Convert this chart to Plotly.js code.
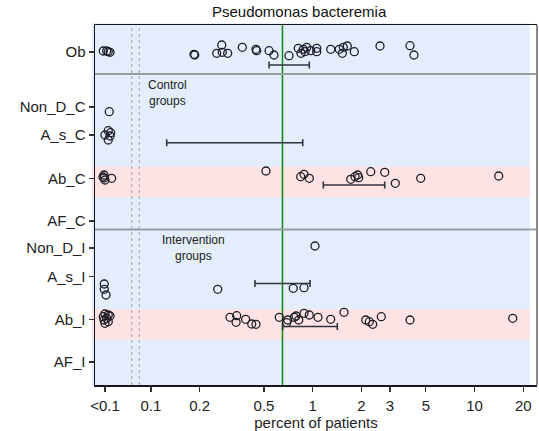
<!DOCTYPE html>
<html>
<head>
<meta charset="utf-8">
<script src="https://cdn.plot.ly/plotly-3.0.1.min.js"></script>
<style>
  html, body { margin: 0; padding: 0; background: #fff; }
  #chart { width: 539px; height: 431px; }
</style>
</head>
<body>
<div id="chart"></div>
<script>
// Row labels (top to bottom) and their vertical slots on the numeric y axis
const rows = ['Ob', 'Non_D_C', 'A_s_C', 'Ab_C', 'AF_C', 'Non_D_I', 'A_s_I', 'Ab_I', 'AF_I'];
const rowPos = [52, 107, 135, 178.5, 221, 248, 276.5, 319.5, 362];

// Percent of patients per study, one array per row; values shown at "<0.1" are below 0.1
const ob_x = [0.0508, 0.0533, 0.0559, 0.0545, 0.1846, 0.1865, 0.255, 0.274, 0.276, 0.298,
  0.367, 0.446, 0.450, 0.537, 0.576, 0.713, 0.814, 0.846, 0.874, 0.896, 0.918, 0.971,
  1.058, 1.058, 1.291, 1.459, 1.523, 1.545, 1.635, 1.806, 2.603, 3.99, 4.22];
const ob_jit = [-1, -1, 0.3, -0.3, 2.3, 3, 1.3, -7, 0.3, 1.3,
  -4.7, -2.7, -1.3, -1.3, 3, 3.7, -3.7, 1.3, -2.7, -0.3, -4.7, -1.3,
  -3.7, -0.3, -2.7, -2.7, 1.3, -4.7, -6, -0.3, -6, -6.3, 3];

const nonDC_x = [0.0553];
const nonDC_jit = [4.7];

const asC_x = [0.0520, 0.0545, 0.0559, 0.0545, 0.0564];
const asC_jit = [0, -4.3, 1, 5, -2.3];

const abC_x = [0.0513, 0.0513, 0.0520, 0.0506, 0.0572, 0.514, 0.842, 0.883, 0.952,
  1.716, 1.824, 1.895, 1.922, 2.281, 2.784, 3.236, 4.645, 14.09];
const abC_jit = [-3.5, -0.5, 1.5, -1.5, -0.2, -7.5, -1.8, -4.2, -0.2,
  0.8, -1.8, -3.5, -0.8, -6.8, -6.2, 4.8, -0.2, -2.5];

const nonDI_x = [1.032];
const nonDI_jit = [-2];

const asI_x = [0.0515, 0.0515, 0.0528, 0.2587, 0.758, 0.883];
const asI_jit = [7.5, 12.8, 18.5, 12.8, 11.8, 11.2];

const abI_x = [0.0520, 0.0545, 0.0508, 0.0533, 0.0559, 0.0520, 0.0545, 0.0513,
  0.308, 0.339, 0.336, 0.385, 0.4196, 0.446, 0.621, 0.700, 0.690, 0.769, 0.788,
  0.819, 0.883, 0.952, 1.077, 1.291, 1.560, 2.125, 2.236, 2.346, 2.652, 3.99, 17.2];
const abI_jit = [-5.5, -4.5, -2.8, -1.2, -3.5, 3.8, 2.2, 0.5,
  -2.2, -3.8, 2.8, -0.2, 4.5, 4.8, -2.2, 0.5, 3.2, -2.2, -3.5,
  0.5, -6.2, -4.5, -2.2, -0.2, -7.2, 0.5, 2.2, 4.8, -2.8, 0.5, -1.2];

// Interval (low, high) drawn under a row
const ciRows = ['Ob', 'A_s_C', 'Ab_C', 'A_s_I', 'Ab_I'];
const ciLow = [0.537, 0.1252, 1.162, 0.4396, 0.652];
const ciHigh = [0.952, 0.867, 2.784, 0.962, 1.418];
const ciOffset = [13, 7.7, 6.5, 7, 7];

// Overall reference value and the "<0.1" break markers
const refValue = 0.65;
const breakLines = [0.0761, 0.0848];

// X tick labels
const xTickVals = [0.052, 0.1, 0.2, 0.5, 1, 2, 3, 5, 10, 20];
const xTickText = ['<0.1', '0.1', '0.2', '0.5', '1', '2', '3', '5', '10', '20'];

const FONT = 'Liberation Sans, Arial, sans-serif';
const posOf = name => rowPos[rows.indexOf(name)];

const pointRows = [
  ['Ob', ob_x, ob_jit],
  ['Non_D_C', nonDC_x, nonDC_jit],
  ['A_s_C', asC_x, asC_jit],
  ['Ab_C', abC_x, abC_jit],
  ['Non_D_I', nonDI_x, nonDI_jit],
  ['A_s_I', asI_x, asI_jit],
  ['Ab_I', abI_x, abI_jit]
];

const traces = pointRows.map(([name, xs, jit]) => ({
  type: 'scatter',
  mode: 'markers',
  name: name,
  x: xs,
  y: jit.map(j => posOf(name) + j),
  marker: { symbol: 'circle-open', size: 8, color: '#1e1e28', line: { width: 1.3 } },
  hoverinfo: 'x+name',
  showlegend: false
}));

// Intervals as error bars anchored at the low end
traces.push({
  type: 'scatter',
  mode: 'markers',
  x: ciLow,
  y: ciRows.map((r, i) => posOf(r) + ciOffset[i]),
  marker: { size: 1, color: 'rgba(0,0,0,0)' },
  error_x: {
    type: 'data', symmetric: false,
    array: ciHigh.map((h, i) => h - ciLow[i]),
    arrayminus: ciLow.map(() => 0),
    color: '#333340', thickness: 1.6, width: 3.5
  },
  hoverinfo: 'skip',
  showlegend: false
});

const shapes = [
  // panel background
  { type: 'rect', xref: 'paper', yref: 'paper', x0: -0.007, x1: 0.984, y0: -0.005, y1: 1.005,
    fillcolor: '#e3edfb', line: { width: 0 }, layer: 'below' },
  // highlighted rows
  { type: 'rect', xref: 'paper', yref: 'y', x0: -0.007, x1: 0.984, y0: 166.7, y1: 197.3,
    fillcolor: '#fde3e3', line: { width: 0 }, layer: 'below' },
  { type: 'rect', xref: 'paper', yref: 'y', x0: -0.007, x1: 0.984, y0: 309, y1: 340,
    fillcolor: '#fde3e3', line: { width: 0 }, layer: 'below' }
];
breakLines.forEach(v => shapes.push({
  type: 'line', xref: 'x', yref: 'paper', x0: v, x1: v, y0: 0, y1: 1,
  line: { color: '#a8a8b0', width: 1, dash: 'dot' }, layer: 'below'
}));
shapes.push({
  type: 'line', xref: 'x', yref: 'paper', x0: refValue, x1: refValue, y0: 0, y1: 1,
  line: { color: '#0a8a0a', width: 1.5 }, layer: 'below'
});
// group separators
[74, 229.5].forEach(y => shapes.push({
  type: 'line', xref: 'paper', yref: 'y', x0: 0, x1: 1, y0: y, y1: y,
  line: { color: '#9a9ca2', width: 2.2 }, layer: 'below'
}));
// right edge of the frame
shapes.push({
  type: 'line', xref: 'paper', yref: 'paper', x0: 1, x1: 1, y0: 0, y1: 1,
  line: { color: '#8a8a8a', width: 2 }
});

const groupText = (txt, x, y) => ({
  text: txt, xref: 'paper', yref: 'y', x: x, y: y, showarrow: false,
  xanchor: 'center', yanchor: 'middle', font: { family: FONT, size: 12, color: '#222' }
});

const layout = {
  width: 539, height: 431,
  margin: { l: 95, r: 2, t: 25, b: 46 },
  paper_bgcolor: '#ffffff',
  plot_bgcolor: '#ffffff',
  title: {
    text: 'Pseudomonas bacteremia',
    font: { family: FONT, size: 15, color: '#111' },
    x: 0.555, xref: 'container', xanchor: 'center',
    y: 0.972, yref: 'container', yanchor: 'middle'
  },
  xaxis: {
    type: 'log',
    range: [-1.3454, 1.3855],
    tickvals: xTickVals, ticktext: xTickText,
    ticks: 'outside', ticklen: 5, tickcolor: '#333', tickwidth: 1.2,
    ticklabelstandoff: 1,
    tickfont: { family: FONT, size: 15, color: '#222' },
    showgrid: false, zeroline: false,
    showline: true, linecolor: '#15151f', linewidth: 1.5, mirror: true,
    title: { text: 'percent of patients', font: { family: FONT, size: 15, color: '#222' }, standoff: 0 }
  },
  yaxis: {
    range: [385, 25],
    tickvals: rowPos, ticktext: rows,
    ticks: 'outside', ticklen: 5, tickcolor: '#333', tickwidth: 1.2,
    tickfont: { family: FONT, size: 15, color: '#222' },
    showgrid: false, zeroline: false,
    showline: true, linecolor: '#15151f', linewidth: 1.5
  },
  shapes: shapes,
  annotations: [
    { text: 'Control<br>groups', xref: 'paper', yref: 'y', x: 0.163, y: 93, showarrow: false,
      xanchor: 'center', yanchor: 'middle', font: { family: FONT, size: 12, color: '#222' } },
    { text: 'Intervention<br>groups', xref: 'paper', yref: 'y', x: 0.2224, y: 248.3, showarrow: false,
      xanchor: 'center', yanchor: 'middle', font: { family: FONT, size: 12, color: '#222' } }
  ],
  showlegend: false
};

Plotly.newPlot('chart', traces, layout, { displayModeBar: false, staticPlot: true });
</script>
</body>
</html>
